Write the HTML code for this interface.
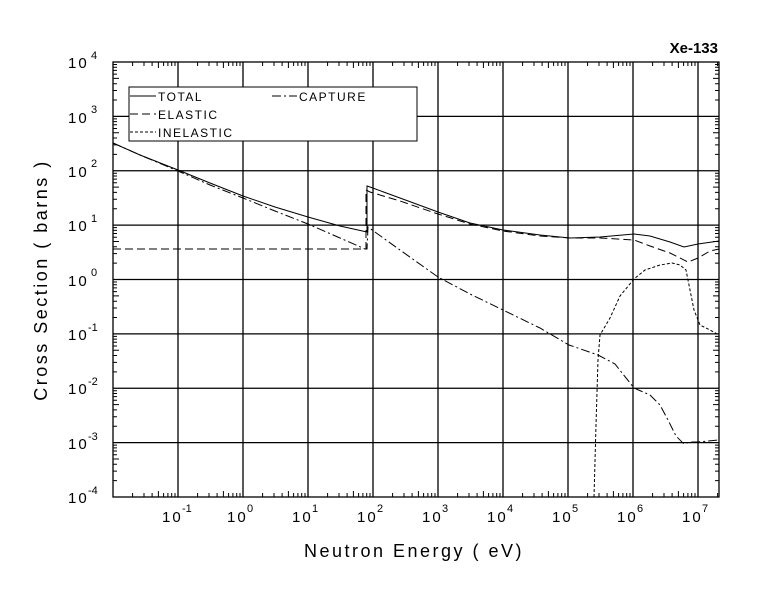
<!DOCTYPE html>
<html><head><meta charset="utf-8"><style>
body{margin:0;background:#fff;}
svg{display:block;font-family:"Liberation Sans",sans-serif;}
</style></head><body>
<svg width="780" height="590" viewBox="0 0 780 590" xmlns="http://www.w3.org/2000/svg">
<defs>
<clipPath id="c"><rect x="113" y="62" width="606" height="435"/></clipPath>
<g id="xd" stroke="#000" stroke-width="1">
<path d="M19.6 0V-4M31 0V-4M39.1 0V-4M45.4 0V-6M50.6 0V-4M54.9 0V-4M58.7 0V-4M62 0V-4"/>
</g>
<g id="xdt" stroke="#000" stroke-width="1">
<path d="M19.6 0V4M31 0V4M39.1 0V4M45.4 0V6M50.6 0V4M54.9 0V4M58.7 0V4M62 0V4"/>
</g>
<g id="yd" stroke="#000" stroke-width="1">
<path d="M0 -16.4H4M0 -25.9H4M0 -32.7H4M0 -38H6M0 -42.3H4M0 -46H4M0 -49.1H4M0 -51.9H4"/>
</g>
<g id="ydr" stroke="#000" stroke-width="1">
<path d="M0 -16.4H-4M0 -25.9H-4M0 -32.7H-4M0 -38H-6M0 -42.3H-4M0 -46H-4M0 -49.1H-4M0 -51.9H-4"/>
</g>
</defs>
<rect width="780" height="590" fill="#fff"/>
<g stroke="#000" stroke-width="1.3" fill="none">
<rect x="113" y="62" width="606" height="435"/>
<path d="M178 62V497M243 62V497M308 62V497M373 62V497M438 62V497M503 62V497M568 62V497M633 62V497M698 62V497"/>
<path d="M113 116.4H719M113 170.75H719M113 225.1H719M113 279.5H719M113 333.9H719M113 388.25H719M113 442.6H719"/>
</g>
<g clip-path="url(#c)">
<use href="#xd" x="113" y="497"/><use href="#xd" x="178" y="497"/><use href="#xd" x="243" y="497"/><use href="#xd" x="308" y="497"/><use href="#xd" x="373" y="497"/><use href="#xd" x="438" y="497"/><use href="#xd" x="503" y="497"/><use href="#xd" x="568" y="497"/><use href="#xd" x="633" y="497"/><use href="#xd" x="698" y="497"/>
<use href="#xdt" x="113" y="62"/><use href="#xdt" x="178" y="62"/><use href="#xdt" x="243" y="62"/><use href="#xdt" x="308" y="62"/><use href="#xdt" x="373" y="62"/><use href="#xdt" x="438" y="62"/><use href="#xdt" x="503" y="62"/><use href="#xdt" x="568" y="62"/><use href="#xdt" x="633" y="62"/><use href="#xdt" x="698" y="62"/>
</g>
<use href="#yd" x="113" y="497"/><use href="#yd" x="113" y="442.6"/><use href="#yd" x="113" y="388.25"/><use href="#yd" x="113" y="333.9"/><use href="#yd" x="113" y="279.5"/><use href="#yd" x="113" y="225.1"/><use href="#yd" x="113" y="170.75"/><use href="#yd" x="113" y="116.4"/>
<use href="#ydr" x="719" y="497"/><use href="#ydr" x="719" y="442.6"/><use href="#ydr" x="719" y="388.25"/><use href="#ydr" x="719" y="333.9"/><use href="#ydr" x="719" y="279.5"/><use href="#ydr" x="719" y="225.1"/><use href="#ydr" x="719" y="170.75"/><use href="#ydr" x="719" y="116.4"/>
<g fill="none" stroke="#000" stroke-width="1">
<polyline points="113,143 140,155 178,170 210,183 243,196 275,207 308,217 340,226 367,232 367,186 370,187 400,198 438,212 470,223 503,230 540,235 570,238 600,237 634,234 650,236 670,242 684,247 698,244 719,241"/>
<polyline stroke-dasharray="8,4" points="113,249 366,249 366,190 370,192 400,201 438,214 470,224 503,231 540,236 570,238 600,238 634,240 650,246 670,253 688,262 698,258 710,251 719,249"/>
<polyline stroke-dasharray="9,3,2,3" points="113,143 140,155 178,171 210,185 243,198 275,211 308,224 340,238 365,249 367,249 368,227 400,250 438,277 470,294 503,310 540,328 569,345 598,355 615,364 634,388 650,395 660,405 668,420 676,436 684,444 690,442 698,442 719,440"/>
<polyline stroke-dasharray="3,2" points="594,497 596,425 598,360 600,335 610,318 620,296 634,279 645,270 660,265 672,263 680,265 686,270 690,290 694,310 700,325 710,330 719,335"/>
</g>
<rect x="129" y="87" width="288" height="54" fill="#fff" stroke="#000" stroke-width="1"/>
<g stroke="#000" stroke-width="1">
<line x1="130" y1="96" x2="156" y2="96"/>
<line x1="130" y1="114" x2="156" y2="114" stroke-dasharray="8,4"/>
<line x1="130" y1="132" x2="156" y2="132" stroke-dasharray="3,2"/>
<line x1="272" y1="96" x2="297" y2="96" stroke-dasharray="9,3,2,3"/>
</g>
<g font-size="12" fill="#000" letter-spacing="1.5">
<text x="158" y="101">TOTAL</text>
<text x="158" y="119">ELASTIC</text>
<text x="158" y="137">INELASTIC</text>
<text x="299" y="101">CAPTURE</text>
</g>
<g font-size="15" fill="#000">
<text x="162" y="522" letter-spacing="2">10</text><text x="182" y="512" font-size="11">-1</text>
<text x="227" y="522" letter-spacing="2">10</text><text x="247" y="512" font-size="11">0</text>
<text x="292" y="522" letter-spacing="2">10</text><text x="312" y="512" font-size="11">1</text>
<text x="357" y="522" letter-spacing="2">10</text><text x="377" y="512" font-size="11">2</text>
<text x="422" y="522" letter-spacing="2">10</text><text x="442" y="512" font-size="11">3</text>
<text x="487" y="522" letter-spacing="2">10</text><text x="507" y="512" font-size="11">4</text>
<text x="552" y="522" letter-spacing="2">10</text><text x="572" y="512" font-size="11">5</text>
<text x="617" y="522" letter-spacing="2">10</text><text x="637" y="512" font-size="11">6</text>
<text x="682" y="522" letter-spacing="2">10</text><text x="702" y="512" font-size="11">7</text>

<text x="68" y="503" letter-spacing="2">10</text><text x="88" y="494" font-size="11">-4</text>
<text x="68" y="449" letter-spacing="2">10</text><text x="88" y="440" font-size="11">-3</text>
<text x="68" y="394" letter-spacing="2">10</text><text x="88" y="385" font-size="11">-2</text>
<text x="68" y="340" letter-spacing="2">10</text><text x="88" y="331" font-size="11">-1</text>
<text x="68" y="286" letter-spacing="2">10</text><text x="91" y="276" font-size="11">0</text>
<text x="68" y="231" letter-spacing="2">10</text><text x="91" y="222" font-size="11">1</text>
<text x="68" y="177" letter-spacing="2">10</text><text x="91" y="167" font-size="11">2</text>
<text x="68" y="123" letter-spacing="2">10</text><text x="91" y="113" font-size="11">3</text>
<text x="68" y="68" letter-spacing="2">10</text><text x="91" y="59" font-size="11">4</text>
</g>
<text x="718" y="53" font-size="15" font-weight="bold" text-anchor="end">Xe-133</text>
<text x="414" y="557" font-size="18" text-anchor="middle" letter-spacing="2.5">Neutron Energy ( eV)</text>
<text transform="translate(47,280) rotate(-90)" font-size="18" text-anchor="middle" letter-spacing="2.5">Cross Section ( barns )</text>
</svg>
</body></html>
